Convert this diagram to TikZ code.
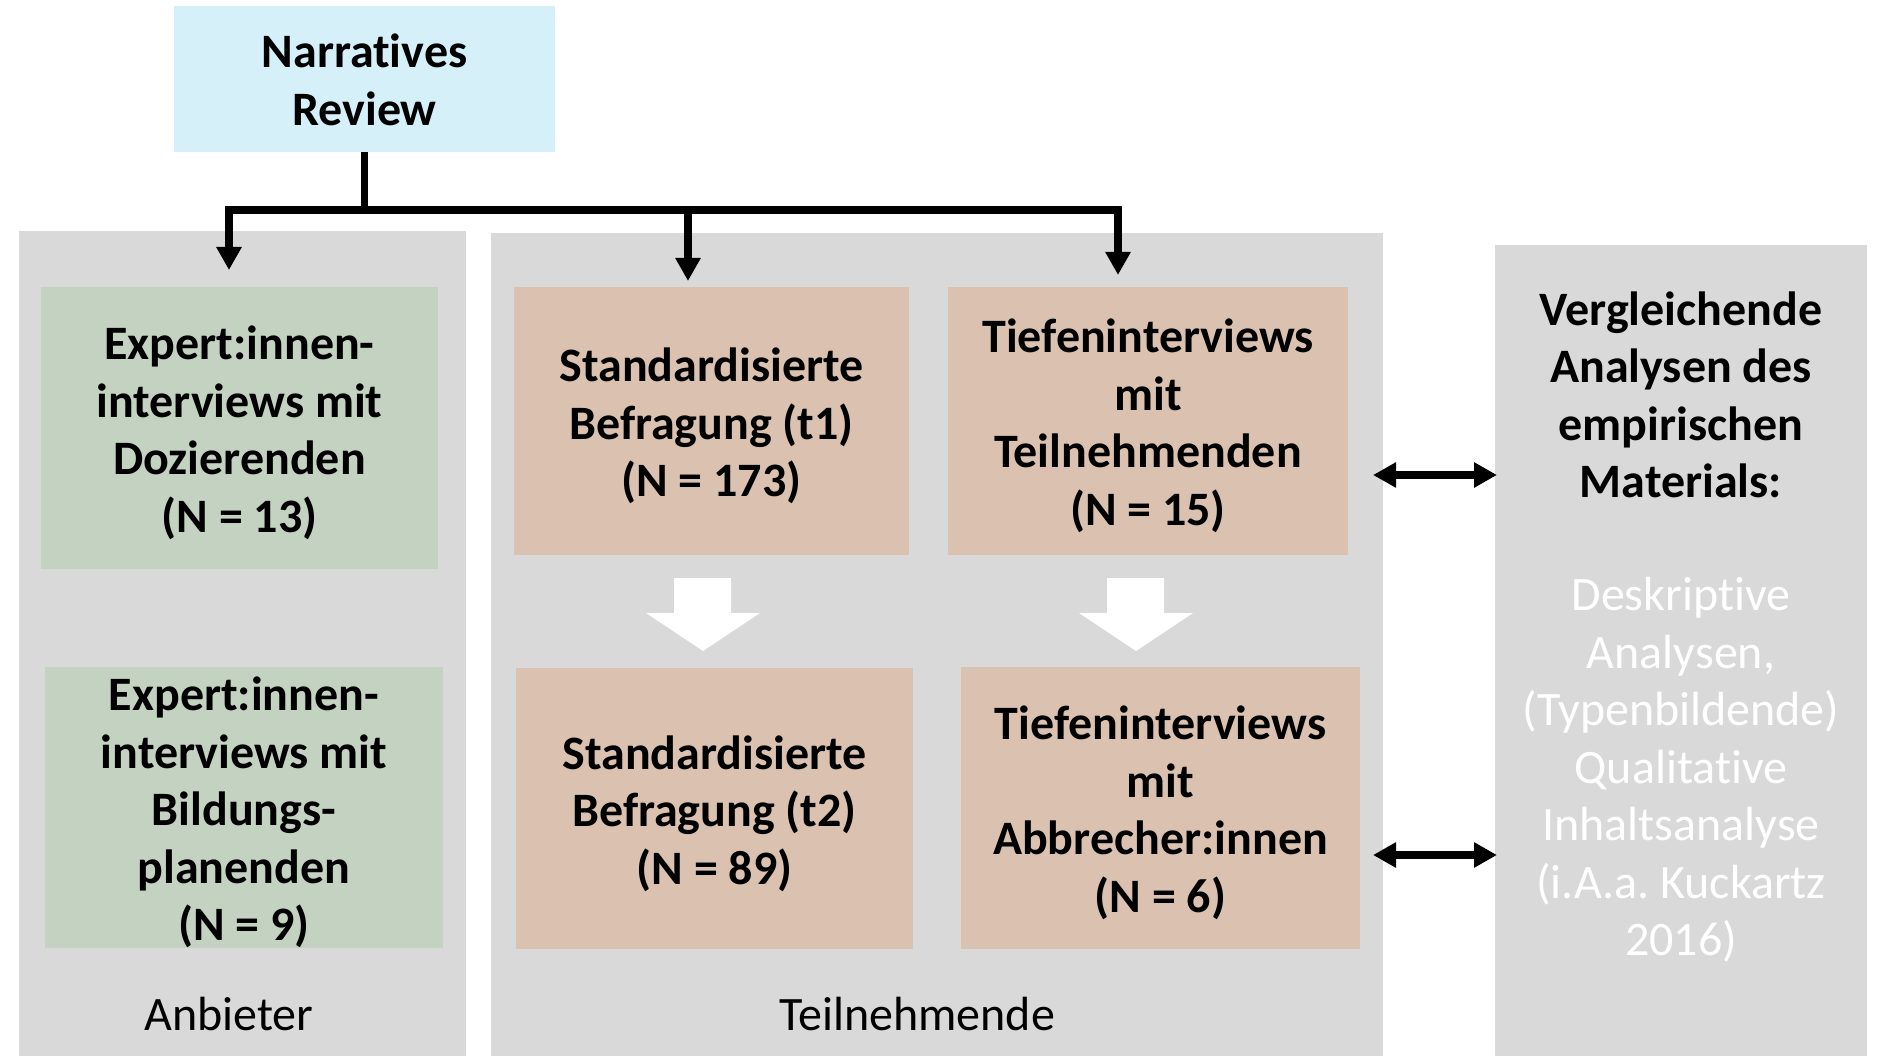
\documentclass[tikz,border=0pt]{standalone}
\usepackage{fontspec}
\setmainfont{Carlito}[Ligatures=NoCommon]
\frenchspacing
\usetikzlibrary{arrows.meta}
\definecolor{panel}{RGB}{217,217,217}
\definecolor{nrblue}{RGB}{214,240,249}
\definecolor{grn}{RGB}{196,211,193}
\definecolor{tanbox}{RGB}{219,194,176}
\tikzset{
  txt/.style={inner sep=0pt, align=center, font=\fontsize{48}{57.5}\selectfont},
  btxt/.style={txt, font=\fontsize{48}{57.5}\selectfont\bfseries},
  panelbox/.style={fill=panel, inner sep=0pt},
  filledbox/.style={inner sep=0pt, fill=#1},
  conn/.style={line width=7.5pt, black},
  downarr/.style={conn, -{Triangle[width=24pt,length=23pt]}},
  twoarr/.style={line width=8pt, black, {Triangle[width=24pt,length=23pt]}-{Triangle[width=24pt,length=23pt]}},
  blockarrow/.style={fill=white, draw=none}
}
\begin{document}
\begin{tikzpicture}[x=1pt,y=-1pt]
\useasboundingbox (0,0) rectangle (1877,1056);
\fill[white] (0,0) rectangle (1877,1056);
% panels
\node[panelbox, minimum width=447pt, minimum height=825pt] (pl) at (242.5,643.5) {};
\node[panelbox, minimum width=892pt, minimum height=823pt] (pm) at (937,644.5) {};
\node[panelbox, minimum width=372pt, minimum height=811pt] (pr) at (1681,650.5) {};
% top box
\node[filledbox=nrblue, minimum width=381pt, minimum height=146pt] (nr) at (364.5,79) {};
\node[btxt] (nrt) at ([yshift=-1pt]nr.center) {Narratives\\Review};
% green boxes
\node[filledbox=grn, minimum width=397pt, minimum height=282pt] (g1) at (239.5,428) {};
\node[btxt] (g1t) at ([yshift=-5pt]g1.center) {Expert:innen-\\interviews mit\\Dozierenden\\(N = 13)};
\node[filledbox=grn, minimum width=398pt, minimum height=281pt] (g2) at (244,807.5) {};
\node[btxt] (g2t) at ([yshift=-5pt]g2.center) {Expert:innen-\\interviews mit\\Bildungs-\\planenden\\(N = 9)};
% tan boxes
\node[filledbox=tanbox, minimum width=395pt, minimum height=268pt] (s1) at (711.5,421) {};
\node[btxt] (s1t) at ([yshift=-5pt]s1.center) {Standardisierte\\Befragung (t1)\\(N = 173)};
\node[filledbox=tanbox, minimum width=400pt, minimum height=268pt] (s2) at (1148,421) {};
\node[btxt] (s2t) at ([yshift=-5pt]s2.center) {Tiefeninterviews\\mit\\Teilnehmenden\\(N = 15)};
\node[filledbox=tanbox, minimum width=397pt, minimum height=281pt] (s3) at (714.5,808.5) {};
\node[btxt] (s3t) at ([yshift=-5pt]s3.center) {Standardisierte\\Befragung (t2)\\(N = 89)};
\node[filledbox=tanbox, minimum width=399pt, minimum height=282pt] (s4) at (1160.5,808) {};
\node[btxt] (s4t) at ([yshift=-5pt]s4.center) {Tiefeninterviews\\mit\\Abbrecher:innen\\(N = 6)};
% panel labels
\node[txt] (lab1) at (229,1014) {Anbieter};
\node[txt] (lab2) at (917,1014) {Teilnehmende};
% right panel text
\node[btxt] (rt1) at (1681,395) {Vergleichende\\Analysen des\\empirischen\\Materials:};
\node[txt, text=white] (rt2) at (1681,770) {Deskriptive\\Analysen,\\(Typenbildende)\\Qualitative\\Inhaltsanalyse\\(i.A.a. Kuckartz\\2016)};
% white block arrows
\fill[blockarrow] (674,578) -- (731,578) -- (731,613) -- (760,613) -- (703,651) -- (646,613) -- (674,613) -- cycle;
\fill[blockarrow] (1107,578) -- (1164,578) -- (1164,613) -- (1193,613) -- (1136,651) -- (1079,613) -- (1107,613) -- cycle;
% connectors
\coordinate (j) at (nr.south |- 0,210);
\coordinate (a1) at (229,270);
\coordinate (a3) at (1118,275);
\coordinate (m0) at (688,210);
\coordinate (a2) at (688,281);
\draw[conn] (nr.south) -- ([yshift=-3pt]j);
\draw[conn, {Triangle[width=24pt,length=23pt]}-{Triangle[width=24pt,length=23pt]}] (a1) |- (j) -| (a3);
\draw[downarr] (m0) -- (a2);
% double arrows
\coordinate (d1a) at (1373,475);
\coordinate (d1b) at (1497,475);
\coordinate (d2a) at (1373,855);
\coordinate (d2b) at (1497,855);
\draw[twoarr] (d1a) -- (d1b);
\draw[twoarr] (d2a) -- (d2b);
\end{tikzpicture}
\end{document}
